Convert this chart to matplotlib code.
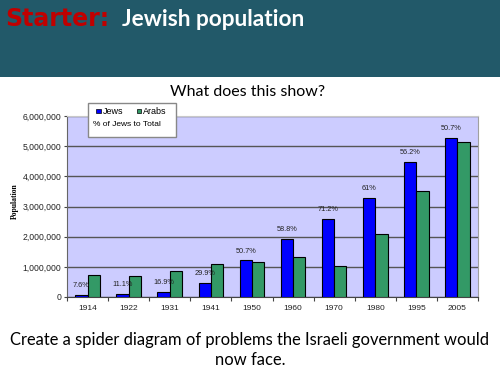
import numpy as np
import matplotlib
matplotlib.use("Agg")
import matplotlib.pyplot as plt
from matplotlib.patches import Rectangle
from matplotlib.ticker import FuncFormatter, FixedLocator

years = ["1914", "1922", "1931", "1941", "1950", "1960", "1970", "1980", "1995", "2005"]
jews = [70000, 100000, 180000, 470000, 1210000, 1910000, 2590000, 3280000, 4490000, 5270000]
arabs = [730000, 680000, 870000, 1110000, 1170000, 1330000, 1040000, 2100000, 3500000, 5140000]
pct_labels = ["7.6%", "11.1%", "16.9%", "29.9%", "50.7%", "58.8%", "71.2%", "61%", "56.2%", "50.7%"]

W, H = 500, 375
fig = plt.figure(figsize=(5, 3.75), dpi=100)


def fx(px):
    return px / W


def fy(py):
    return 1 - py / H


# header band
fig.add_artist(Rectangle((0, fy(77)), 1, 77 / H, transform=fig.transFigure,
                         facecolor="#225969", edgecolor="none", zorder=0))
fig.text(fx(5), fy(19), "Starter:", color="#C00000", fontsize=17,
         fontweight="bold", family="DejaVu Sans", va="center", ha="left")
fig.text(fx(122), fy(19), "Jewish population", color="white", fontsize=16.3,
         fontweight="bold", family="Lato", va="center", ha="left")

fig.text(fx(248), fy(92), "What does this show?", fontsize=11.5, family="Lato",
         ha="center", va="center")
fig.text(fx(250), fy(340), "Create a spider diagram of problems the Israeli government would",
         fontsize=11.9, family="Lato", ha="center", va="center")
fig.text(fx(250), fy(360), "now face.", fontsize=11.9, family="Lato",
         ha="center", va="center")

# chart
ax = fig.add_axes([fx(67), fy(297), (478 - 67) / W, (297 - 116) / H])
ax.set_facecolor("#CCCCFF")
x = np.arange(len(years))
bw = 0.3
ax.bar(x - bw / 2, jews, bw, color="#0000FF", edgecolor="black", linewidth=0.8, zorder=3)
ax.bar(x + bw / 2, arabs, bw, color="#339966", edgecolor="black", linewidth=0.8, zorder=3)

for xi, v, lab in zip(x, jews, pct_labels):
    ax.annotate(lab, (xi - bw / 2, v), xytext=(0, 6.8), textcoords="offset points",
                ha="center", va="center", fontsize=5.3, family="Liberation Sans",
                color="#222222")

ax.set_xlim(-0.5, len(years) - 0.5)
ax.set_ylim(0, 6000000)
ax.set_yticks(np.arange(0, 6000001, 1000000))
ax.yaxis.set_major_formatter(FuncFormatter(lambda v, p: f"{int(v):,}"))
ax.grid(axis="y", color="#555555", linewidth=1, zorder=1)
ax.set_axisbelow(True)

ax.xaxis.set_major_locator(FixedLocator(np.arange(-0.5, len(years), 1.0)))
ax.xaxis.set_minor_locator(FixedLocator(x))
ax.set_xticklabels([])
ax.set_xticklabels(years, minor=True)
ax.tick_params(axis="x", which="major", length=3, width=0.8, color="#444444")
ax.tick_params(axis="x", which="minor", length=0, pad=6, labelsize=6)
ax.tick_params(axis="y", length=2, width=0.8, color="#444444", labelsize=6.2, pad=2)
for lab in ax.get_xticklabels(minor=True) + ax.get_yticklabels():
    lab.set_family("Liberation Sans")
    lab.set_color("#222222")

ax.spines["left"].set_color("#666666")
ax.spines["bottom"].set_color("#444444")
ax.spines["top"].set_color("#C8C8C8")
ax.spines["right"].set_color("#A0A0A0")

fig.text(fx(15), fy(201), "Population", rotation=90, fontsize=5.5, fontweight="bold",
         family="Liberation Serif", ha="center", va="center")

# legend box
fig.add_artist(Rectangle((fx(88), fy(137)), (176 - 88) / W, (137 - 103) / H,
                         transform=fig.transFigure, facecolor="white",
                         edgecolor="#888888", linewidth=1, zorder=5))
fig.add_artist(Rectangle((fx(96), fy(113)), 4.5 / W, 4.5 / H, transform=fig.transFigure,
                         facecolor="#0000FF", edgecolor="black", linewidth=0.5, zorder=6))
fig.text(fx(102.5), fy(111), "Jews", fontsize=6.5, family="Liberation Sans",
         va="center", ha="left", zorder=6)
fig.add_artist(Rectangle((fx(136.5), fy(113)), 4.5 / W, 4.5 / H, transform=fig.transFigure,
                         facecolor="#339966", edgecolor="black", linewidth=0.5, zorder=6))
fig.text(fx(142.5), fy(111), "Arabs", fontsize=6.5, family="Liberation Sans",
         va="center", ha="left", zorder=6)
fig.text(fx(93), fy(125), "% of Jews to Total", fontsize=6, family="Liberation Sans",
         va="center", ha="left", zorder=6)

fig.savefig("out.png", dpi=100)
